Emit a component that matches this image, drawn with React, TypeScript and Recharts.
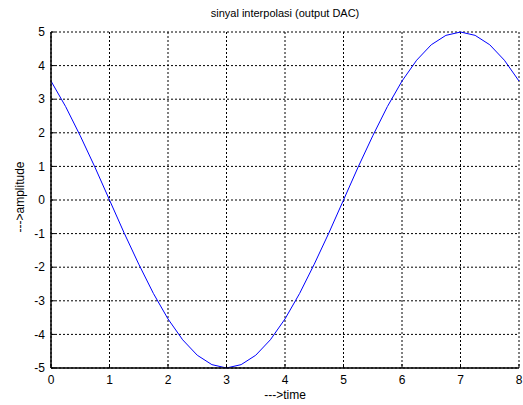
import { LineChart, Line, XAxis, YAxis, CartesianGrid } from "recharts"

// time samples
const time = [
    0, 0.25, 0.5, 0.75, 1, 1.25, 1.5, 1.75, 2, 2.25, 2.5, 2.75, 3, 3.25, 3.5, 3.75,
    4, 4.25, 4.5, 4.75, 5, 5.25, 5.5, 5.75, 6, 6.25, 6.5, 6.75, 7, 7.25, 7.5, 7.75, 8
]

const amplitude = [
    3.54, 2.78, 1.91, 0.98, 0, -0.98, -1.91, -2.78, -3.54, -4.16, -4.62, -4.9, -5, -4.9, -4.62, -4.16,
    -3.54, -2.78, -1.91, -0.98, 0, 0.98, 1.91, 2.78, 3.54, 4.16, 4.62, 4.9, 5, 4.9, 4.62, 4.16, 3.54
]

const xTicks = [0, 1, 2, 3, 4, 5, 6, 7, 8]
const yTicks = [-5, -4, -3, -2, -1, 0, 1, 2, 3, 4, 5]

const data = time.map((t, i) => ({ t, y: amplitude[i] }))

const font = "'Liberation Sans', Arial, sans-serif"

export default function App() {

    return (

        <div style={{ position: "absolute", left: 0, top: 0, width: 523, height: 405, background: "#fff", fontFamily: font }}>

            <LineChart
                width={523}
                height={405}
                data={data}
                margin={{ top: 32, right: 4, bottom: 17, left: 21 }}
            >

                <CartesianGrid stroke="#000" strokeDasharray="2 2" strokeWidth={1} />

                <XAxis
                    dataKey="t"
                    type="number"
                    domain={[0, 8]}
                    ticks={xTicks}
                    height={20}
                    axisLine={{ stroke: "#000", strokeWidth: 1.5 }}
                    tickLine={{ stroke: "#000" }}
                    tickSize={-4}
                    tickMargin={11}
                    tick={{ fill: "#000", fontSize: 12, fontFamily: font }}
                />

                <XAxis
                    xAxisId="top"
                    orientation="top"
                    dataKey="t"
                    type="number"
                    domain={[0, 8]}
                    ticks={xTicks}
                    height={0}
                    axisLine={{ stroke: "#000", strokeWidth: 1 }}
                    tickLine={{ stroke: "#000" }}
                    tickSize={-4}
                    tick={false}
                />

                <YAxis
                    dataKey="y"
                    type="number"
                    domain={[-5, 5]}
                    ticks={yTicks}
                    width={30}
                    axisLine={{ stroke: "#000", strokeWidth: 1.5 }}
                    tickLine={{ stroke: "#000" }}
                    tickSize={-4}
                    tickMargin={10}
                    tick={{ fill: "#000", fontSize: 12, fontFamily: font }}
                />

                <YAxis
                    yAxisId="right"
                    orientation="right"
                    type="number"
                    domain={[-5, 5]}
                    ticks={yTicks}
                    width={0}
                    axisLine={{ stroke: "#000", strokeWidth: 1.5 }}
                    tickLine={{ stroke: "#000" }}
                    tickSize={-4}
                    tick={false}
                />

                <Line
                    type="linear"
                    dataKey="y"
                    stroke="#0000ff"
                    strokeWidth={1}
                    dot={false}
                    isAnimationActive={false}
                />

            </LineChart>

            <div style={{ position: "absolute", left: 51, width: 468, top: 7, textAlign: "center", fontSize: 11, color: "#000" }}>
                sinyal interpolasi (output DAC)
            </div>

            <div style={{ position: "absolute", left: 51, width: 468, top: 388, textAlign: "center", fontSize: 12, color: "#000" }}>
                ---&gt;time
            </div>

            <div
                style={{
                    position: "absolute",
                    left: 20,
                    top: 197,
                    transform: "translate(-50%, -50%) rotate(-90deg)",
                    whiteSpace: "nowrap",
                    fontSize: 12,
                    color: "#000"
                }}
            >
                ---&gt;amplitude
            </div>

        </div>

    )

}
